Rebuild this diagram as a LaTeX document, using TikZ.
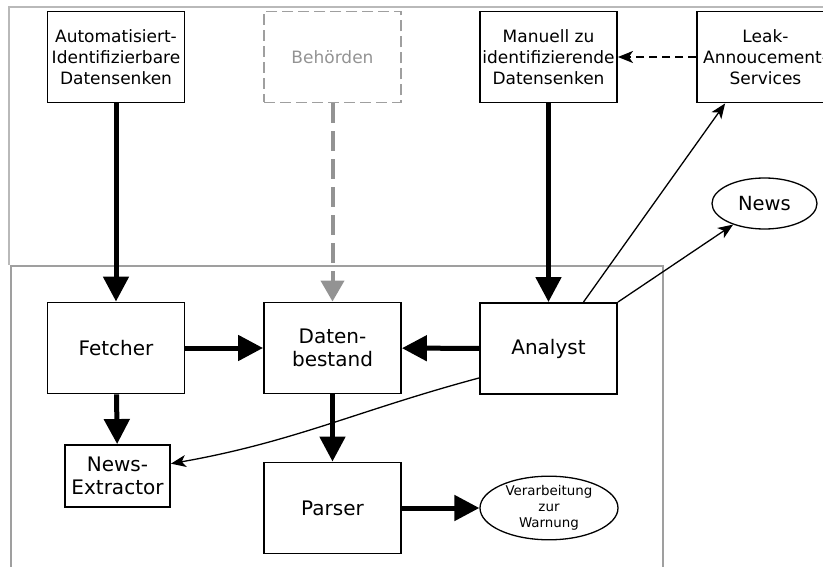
\documentclass[tikz,border=0pt]{standalone}
\usepackage{fontspec}
\setmainfont{DejaVu Sans}
\usetikzlibrary{arrows.meta,shapes.geometric,positioning}

\begin{document}
\begin{tikzpicture}[x=1pt,y=1pt,
	box/.style={draw, line width=1.9pt, minimum width=137pt, minimum height=91pt, inner sep=0pt, align=center, font=\fontsize{17}{21}\selectfont},
	lowbox/.style={box, font=\fontsize{20}{23}\selectfont},
	greybox/.style={box, draw=gray!75, text=gray!85, dash pattern=on 11pt off 5pt},
	blob/.style={draw, ellipse, line width=1.3pt, inner sep=0pt, align=center},
	fatarrow/.style={line width=5pt, -{Triangle[length=25pt,width=25pt]}},
	greyarrow/.style={line width=4pt, draw=gray!85, dash pattern=on 20pt off 8pt, -{Triangle[length=21pt,width=23pt]}},
	thinarrow/.style={line width=1.3pt, -{Stealth[length=15pt,width=12pt,inset=4pt]}},
	frame/.style={draw=gray!55, line width=1.5pt}]
	\useasboundingbox (0,0) rectangle (823,-567);
	% frames
	\draw [frame] (9,-265) -- (9,-7) -- (840,-7);
	\draw [frame, draw=gray!75, line width=1.2pt] (11,-600) -- (11,-266) -- (663,-266) -- (663,-600);
	% sources
	\node[box] (auto) at (116,-57) {Automatisiert-\\Identifizierbare\\Datensenken};
	\node[greybox] (behoerden) at (332.5,-57) {Behörden};
	\node[box] (manuell) at (548.5,-57) {Manuell zu\\identifizierende\\Datensenken};
	\node[box] (leak) at (765.5,-57) {Leak-\\Annoucement-\\Services};
	% processing
	\node[lowbox] (fetcher) at (116,-348) {Fetcher};
	\node[lowbox] (bestand) at (332.5,-348) {Daten-\\bestand};
	\node[lowbox] (analyst) at (548.5,-348.5) {Analyst};
	\node[lowbox, minimum width=105pt, minimum height=62pt] (extractor) at (117.5,-476) {News-\\Extractor};
	\node[lowbox] (parser) at (332.5,-508) {Parser};
	\node[blob, minimum width=138pt, minimum height=62pt, font=\fontsize{13.4}{16}\selectfont] (warnung) at (549,-508) {Verarbeitung\\zur\\Warnung};
	\node[blob, minimum width=105pt, minimum height=51pt, font=\fontsize{19.5}{23}\selectfont] (news) at (764.5,-203.5) {News};
	% connectors
	\draw [fatarrow] (auto) -- (fetcher);
	\draw [greyarrow] (behoerden) -- (bestand);
	\draw [fatarrow] (manuell) -- (analyst);
	\draw [fatarrow] (fetcher) -- (bestand);
	\draw [fatarrow] (analyst) -- (bestand);
	\draw [fatarrow] (fetcher) -- (extractor);
	\draw [fatarrow] (bestand) -- (parser);
	\draw [fatarrow] (parser) -- (warnung);
	\draw [thinarrow, line width=1.5pt, dash pattern=on 8pt off 5pt] (leak) -- (manuell);
	\draw [thinarrow] (analyst.53) -- (leak.-131);
	\draw [thinarrow] (analyst.north east) -- (news);
	\draw [thinarrow] (analyst.203) to[out=195,in=10] (extractor.13);
\end{tikzpicture}
\end{document}
